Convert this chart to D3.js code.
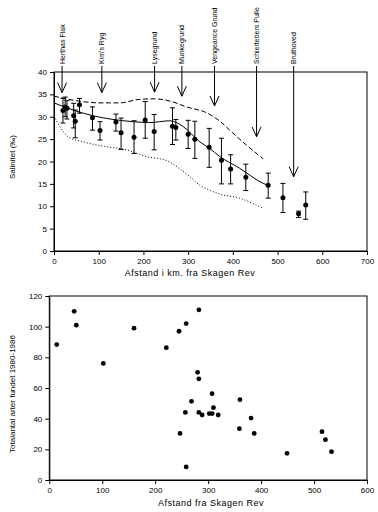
<!DOCTYPE html>
<html><head><meta charset="utf-8">
<script src="https://cdn.jsdelivr.net/npm/d3@7"></script>
<style>
body{margin:0;background:#fff;}
svg{display:block;font-family:"Liberation Sans",Arial,sans-serif;}
.tick text{font-size:8px;fill:#000;}
</style></head><body>
<svg id="c" width="378" height="512"></svg>
<script>
// ---- Top chart data ----
const siteNames = ["Herthas Flak","Kim's Ryg","Lysegrund","Munkegrund","Vengeance Grund","Schiertebers Pulle","Bruthoved"];
const siteKm    = [18, 107, 225, 286, 359, 453, 536];
const siteTip   = [35.4, 35.4, 35.5, 34.6, 32.4, 25.5, 16.6];

const stKm   = [20, 25, 29, 44, 47.5, 57, 86, 103, 138.5, 150, 179, 204, 224, 265, 272.5, 300, 315, 347, 374.5, 395, 429, 479, 512, 547, 563];
const stMean = [31.4, 32.2, 31.9, 30.2, 29.0, 32.7, 29.8, 26.9, 28.8, 26.4, 25.4, 29.3, 26.7, 27.9, 27.6, 26.1, 25.0, 23.2, 20.3, 18.3, 16.5, 14.7, 11.9, 8.3, 10.3];
const stLo   = [28.6, 30.0, 29.5, 27.5, 25.3, 30.8, 27.0, 24.8, 26.8, 22.7, 21.8, 25.2, 22.6, 23.8, 24.8, 22.9, 20.7, 18.7, 15.0, 15.0, 13.5, 11.8, 8.6, 7.5, 7.1];
const stHi   = [34.1, 34.4, 33.6, 33.0, 31.5, 34.1, 32.2, 28.9, 30.6, 29.7, 29.1, 33.4, 30.5, 32.0, 29.4, 29.2, 29.0, 27.4, 25.2, 21.5, 19.4, 17.4, 15.1, 8.9, 13.2];

const upperKm  = [0, 43, 103, 147, 192, 225, 263, 296, 341, 371, 393, 430, 468];
const upperSal = [34.6, 33.7, 33.1, 33.1, 33.9, 34.0, 33.4, 32.2, 30.9, 29.0, 27.0, 23.7, 20.6];
const midKm    = [0, 43, 88, 132, 177, 214, 259, 289, 326, 347, 371, 415, 468, 478];
const midSal   = [33.1, 31.5, 30.2, 29.4, 28.9, 28.7, 29.1, 27.8, 24.4, 23.0, 21.1, 18.5, 15.1, 14.7];
const lowerKm  = [0, 13, 32, 65, 118, 162, 207, 252, 281, 304, 326, 350, 371, 415, 468];
const lowerSal = [30.2, 27.8, 25.5, 24.4, 23.3, 22.6, 21.1, 20.2, 18.4, 16.6, 14.7, 13.5, 12.7, 11.8, 9.5];

const topXTicks = [0,100,200,300,400,500,600,700];
const topYTicks = [0,5,10,15,20,25,30,35,40];

// ---- Bottom chart data ----
const scKm    = [14, 47, 51, 102, 160, 221, 245, 247, 257, 258.5, 258.5, 268.6, 282.5, 280, 282.5, 282.5, 307.5, 310, 288.7, 302, 307.5, 319, 360, 359, 381, 387, 449, 515, 521.5, 533];
const scCount = [88.3, 110, 101, 76, 99, 86.3, 97, 30.4, 44.1, 8.5, 102, 51.3, 111, 70.2, 66, 44.1, 56.3, 47.2, 42.4, 43.3, 43.3, 42.4, 52.4, 33.5, 40.4, 30.4, 17.4, 31.5, 26.3, 18.5];
const botXTicks = [0,100,200,300,400,500,600];
const botYTicks = [0,20,40,60,80,100,120];

const svg = d3.select("#c");

// ===== Top chart =====
const x1 = d3.scaleLinear().domain([0,700]).range([54,367]);
const y1 = d3.scaleLinear().domain([0,40]).range([251,72]);
const g1 = svg.append("g");

g1.append("g").attr("transform","translate(0,251)")
  .call(d3.axisBottom(x1).tickValues(topXTicks).tickSize(4).tickSizeOuter(0).tickPadding(3));
g1.append("g").attr("transform","translate(54,0)")
  .call(d3.axisLeft(y1).tickValues(topYTicks).tickSize(4).tickSizeOuter(0).tickPadding(3));
g1.append("rect").attr("x",x1(0)).attr("y",y1(40)).attr("width",x1(700)-x1(0)).attr("height",y1(0)-y1(40))
  .attr("fill","none").attr("stroke","#000").attr("stroke-width",1);

const line1 = d3.line().x(d=>x1(d[0])).y(d=>y1(d[1])).curve(d3.curveMonotoneX);
g1.append("path").datum(upperKm.map((k,i)=>[k,upperSal[i]])).attr("d",line1)
  .attr("fill","none").attr("stroke","#000").attr("stroke-width",1).attr("stroke-dasharray","5,2.5");
g1.append("path").datum(midKm.map((k,i)=>[k,midSal[i]])).attr("d",line1)
  .attr("fill","none").attr("stroke","#000").attr("stroke-width",1);
g1.append("path").datum(lowerKm.map((k,i)=>[k,lowerSal[i]])).attr("d",line1)
  .attr("fill","none").attr("stroke","#000").attr("stroke-width",1).attr("stroke-dasharray","1,2");

// error bars
const eb = g1.append("g").attr("stroke","#000").attr("stroke-width",1);
stKm.forEach((k,i)=>{
  const cx = x1(k);
  eb.append("line").attr("x1",cx).attr("x2",cx).attr("y1",y1(stLo[i])).attr("y2",y1(stHi[i]));
  eb.append("line").attr("x1",cx-2.5).attr("x2",cx+2.5).attr("y1",y1(stLo[i])).attr("y2",y1(stLo[i]));
  eb.append("line").attr("x1",cx-2.5).attr("x2",cx+2.5).attr("y1",y1(stHi[i])).attr("y2",y1(stHi[i]));
});
g1.append("g").selectAll("circle").data(stKm).join("circle")
  .attr("cx",d=>x1(d)).attr("cy",(d,i)=>y1(stMean[i])).attr("r",2.5).attr("fill","#000");

// arrows + labels
const ag = g1.append("g");
siteKm.forEach((k,i)=>{
  const ax = x1(k), tip = y1(siteTip[i]);
  ag.append("line").attr("x1",ax).attr("x2",ax).attr("y1",66).attr("y2",tip).attr("stroke","#000").attr("stroke-width",1);
  ag.append("path").attr("d",`M${ax-4.5},${tip-10}L${ax},${tip}L${ax+4.5},${tip-10}`)
    .attr("fill","none").attr("stroke","#000").attr("stroke-width",1);
  ag.append("text").attr("transform",`translate(${ax+2.5},64) rotate(-90)`)
    .attr("font-size","7px").attr("text-anchor","start").text(siteNames[i]);
});

svg.append("text").attr("x",190).attr("y",276).attr("text-anchor","middle")
  .attr("font-size","9px").attr("letter-spacing","0.5px").text("Afstand i km. fra Skagen Rev");
svg.append("text").attr("transform","translate(15,157) rotate(-90)").attr("text-anchor","middle")
  .attr("font-size","8px").text("Salinitet (‰)");

// ===== Bottom chart =====
const x2 = d3.scaleLinear().domain([0,600]).range([49.3,367]);
const y2 = d3.scaleLinear().domain([0,120]).range([480,296]);
const g2 = svg.append("g");
g2.append("g").attr("transform","translate(0,480)")
  .call(d3.axisBottom(x2).tickValues(botXTicks).tickSize(4).tickSizeOuter(0).tickPadding(3));
g2.append("g").attr("transform","translate(49.3,0)")
  .call(d3.axisLeft(y2).tickValues(botYTicks).tickSize(4).tickSizeOuter(0).tickPadding(3));
g2.append("rect").attr("x",x2(0)).attr("y",y2(120)).attr("width",x2(600)-x2(0)).attr("height",y2(0)-y2(120))
  .attr("fill","none").attr("stroke","#000").attr("stroke-width",1);
g2.append("g").selectAll("circle").data(scKm).join("circle")
  .attr("cx",d=>x2(d)).attr("cy",(d,i)=>y2(scCount[i])).attr("r",2.4).attr("fill","#000");

svg.append("text").attr("x",211).attr("y",506).attr("text-anchor","middle")
  .attr("font-size","9px").attr("letter-spacing","0.5px").text("Afstand fra Skagen Rev");
svg.append("text").attr("transform","translate(15,394) rotate(-90)").attr("text-anchor","middle")
  .attr("font-size","8px").text("Totalantal arter fundet 1980-1986");

svg.selectAll(".domain").attr("stroke","#000");
svg.selectAll(".tick line").attr("stroke","#000");
</script>
</body></html>
